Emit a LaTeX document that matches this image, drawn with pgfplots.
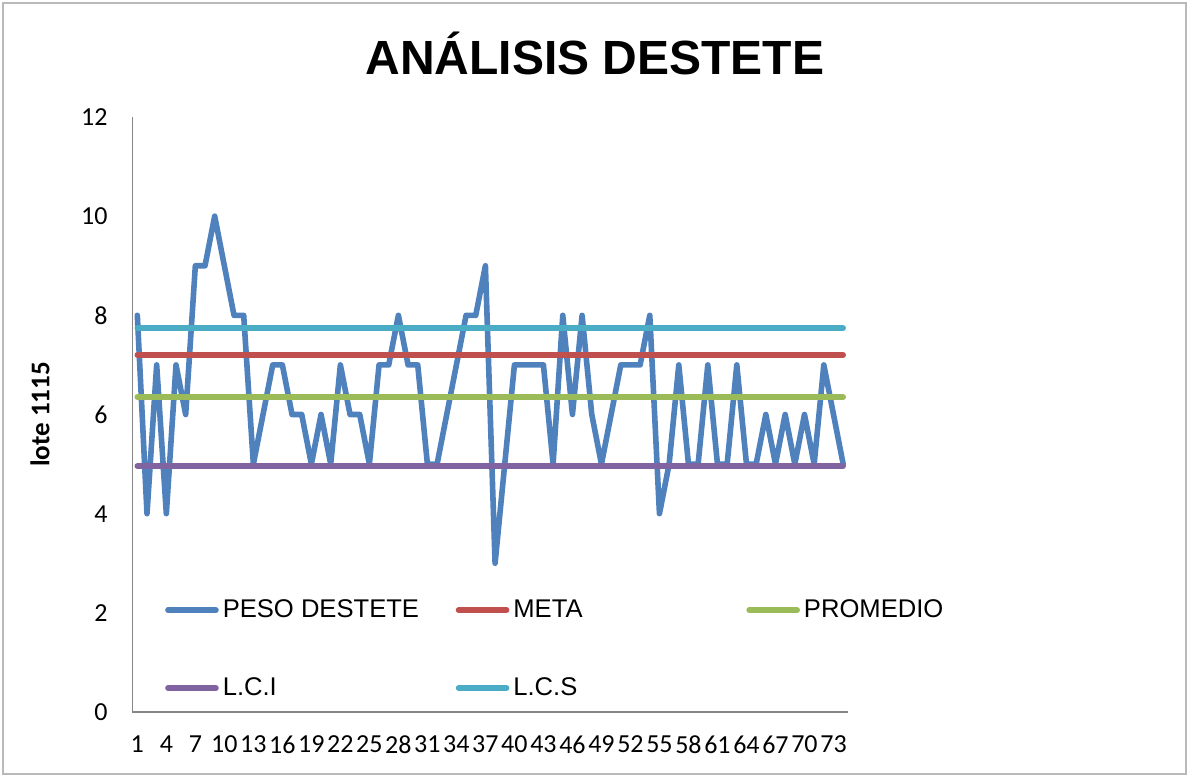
\documentclass[border=0pt]{standalone}
\usepackage{fontspec}
\setmainfont{Carlito}
\newfontfamily\arialfont{Liberation Sans}
\usepackage{pgfplots}
\usepackage{pgfplotstable}
\pgfplotsset{compat=1.18}
\definecolor{cBlue}{HTML}{4F81BD}
\definecolor{cRed}{HTML}{C0504D}
\definecolor{cGreen}{HTML}{9BBB59}
\definecolor{cPurple}{HTML}{8064A2}
\definecolor{cAqua}{HTML}{4BACC6}
\definecolor{cAxis}{HTML}{868686}

\pgfplotstableread{
x y
1 8
2 4
3 7
4 4
5 7
6 6
7 9
8 9
9 10
10 9
11 8
12 8
13 5
14 6
15 7
16 7
17 6
18 6
19 5
20 6
21 5
22 7
23 6
24 6
25 5
26 7
27 7
28 8
29 7
30 7
31 5
32 5
33 6
34 7
35 8
36 8
37 9
38 3
39 5
40 7
41 7
42 7
43 7
44 5
45 8
46 6
47 8
48 6
49 5
50 6
51 7
52 7
53 7
54 8
55 4
56 5
57 7
58 5
59 5
60 7
61 5
62 5
63 7
64 5
65 5
66 6
67 5
68 6
69 5
70 6
71 5
72 7
73 6
74 5
}\pesotable

\begin{document}
\begin{tikzpicture}
\useasboundingbox (-66.25pt,-32.5pt) rectangle (528.25pt,356pt);
\draw[gray!55, line width=0.8pt] (-64.75pt,-31pt) rectangle (526.75pt,354.5pt);
\begin{axis}[
  scale only axis,
  width=357.75pt, height=297.5pt,
  at={(0pt,0pt)}, anchor=south west,
  xmin=0.5, xmax=74.5, ymin=0, ymax=12,
  xtick={1,4,...,73}, ytick={0,2,...,12},
  axis x line=bottom, axis y line=left,
  axis line style={-, draw=cAxis, line width=0.6pt},
  major tick length=0pt,
  tick label style={font=\fontsize{13}{15}\selectfont, /pgf/number format/assume math mode=true},
  xticklabel style={yshift=-8.5pt},
  yticklabel style={xshift=-9pt},
  ylabel={lote 1115},
  ylabel style={font=\fontsize{13.5}{16}\selectfont\bfseries, at={(axis description cs:-0.1293,0.5)}, anchor=center},
  clip=false,
  legend columns=3,
  legend image code/.code={\draw[#1, line width=2.8pt, line cap=round] (0pt,0pt) -- (24pt,0pt);},
  legend style={draw=none, fill=none, inner sep=0pt, anchor=north west,
    at={(axis description cs:0.0451,0.1960)},
    font=\arialfont\fontsize{12.8}{15}\selectfont,
    column sep=0pt, row sep=24.5pt,
    nodes={inner sep=2pt}},
  legend cell align=left,
]
\addplot[cBlue, line width=2.8pt, line join=round, line cap=round] table[x=x, y=y] {\pesotable};
\addlegendentry{\makebox[114.5pt][l]{PESO DESTETE}}
\addplot[cRed, line width=2.8pt, line cap=round] coordinates {(1,7.2) (74,7.2)};
\addlegendentry{\makebox[114.5pt][l]{META}}
\addplot[cGreen, line width=2.8pt, line cap=round] coordinates {(1,6.35) (74,6.35)};
\addlegendentry{PROMEDIO}
\addplot[cPurple, line width=2.8pt, line cap=round] coordinates {(1,4.96) (74,4.96)};
\addlegendentry{\makebox[114.5pt][l]{L.C.I}}
\addplot[cAqua, line width=2.8pt, line cap=round] coordinates {(1,7.74) (74,7.74)};
\addlegendentry{\makebox[114.5pt][l]{L.C.S}}
\end{axis}
\node[font=\arialfont\bfseries\fontsize{24}{28}\selectfont, anchor=base] at (231.25pt,318.5pt) {ANÁLISIS DESTETE};
\end{tikzpicture}
\end{document}
